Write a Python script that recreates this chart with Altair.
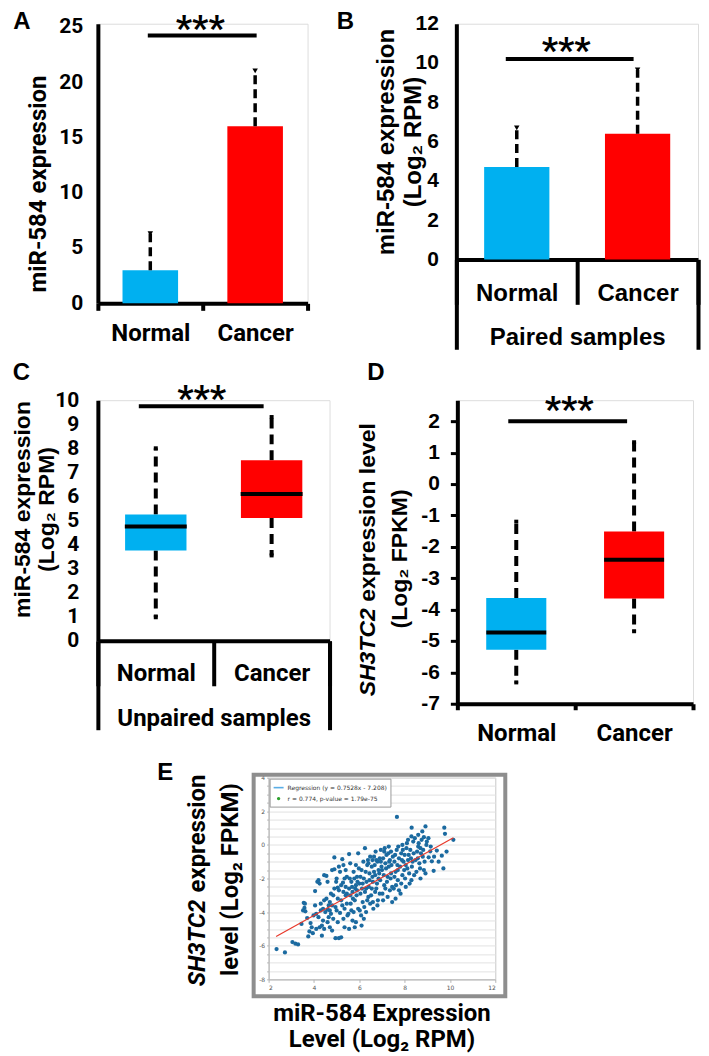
import altair as alt
import pandas as pd

BLUE = "#00B0F0"
RED = "#FF0000"
ROB = "Roboto"
ARI = "Liberation Sans"

categories = ["Normal", "Cancer"]

# Panel A (bar + error)
a_mean = [3.0, 16.0]
a_err = [6.3, 21.0]
a_sig = 24.2
a_ticks = [0, 5, 10, 15, 20, 25]

# Panel B (bar + error, paired)
b_mean = [4.7, 6.4]
b_err = [6.7, 9.65]
b_sig = 10.2
b_ticks = [0, 2, 4, 6, 8, 10, 12]
b_group = ["Paired samples"]

# Panel C (box, unpaired)
c_min = [0.98, 3.55]
c_q1 = [3.75, 5.1]
c_med = [4.75, 6.1]
c_q3 = [5.25, 7.5]
c_max = [8.0, 9.3]
c_sig = 9.75
c_ticks = [0, 1, 2, 3, 4, 5, 6, 7, 8, 9, 10]
c_group = ["Unpaired samples"]

# Panel D (box)
d_min = [-6.32, -4.69]
d_q1 = [-5.28, -3.65]
d_med = [-4.73, -2.41]
d_q3 = [-3.63, -1.51]
d_max = [-1.2, 1.33]
d_sig = 2.0
d_ticks = [-7, -6, -5, -4, -3, -2, -1, 0, 1, 2]

# Panel E (scatter)
scatter_pairs = [
    (2.35, -6.2), (2.72, -6.4), (3.05, -5.78), (3.18, -5.88), (3.3, -5.92), (3.45, -4.7),
    (3.55, -3.45), (3.58, -3.75), (3.62, -3.95), (3.52, -3.9), (3.7, -4.35), (3.75, -5.45),
    (3.8, -5.15), (3.85, -4.65), (3.9, -4.9), (3.95, -5.25), (3.98, -4.2), (3.6, -3.5),
    (4.05, -3.6), (4.1, -4.1), (4.15, -2.2), (4.2, -2.1), (4.25, -2.3), (4.3, -3.9), (4.35, -4.8),
    (4.4, -4.5), (4.45, -1.8), (4.45, -5.0), (4.2, -4.3), (4.1, -5.0), (4.3, -3.5), (4.4, -3.8),
    (4.25, -4.9), (4.35, -5.4), (4.45, -3.3), (4.05, -2.75),
    (4.55, -1.85), (4.6, -2.2), (4.65, -3.6), (4.7, -3.9), (4.75, -4.1), (4.8, -1.5), (4.9, -1.45),
    (4.6, -4.6), (4.7, -4.9), (4.8, -5.1), (4.85, -3.0), (4.9, -2.6), (4.95, -3.7), (4.55, -3.2),
    (4.65, -4.3), (4.75, -2.9), (4.85, -4.4), (4.9, -0.75), (4.95, -5.55), (4.5, -4.0), (4.6, -3.85),
    (4.7, -3.4), (4.8, -3.6), (4.98, -2.2),
    (5.0, -3.9), (5.05, -3.2), (5.1, -2.7), (5.15, -4.05), (5.2, -2.4), (5.25, -0.85), (5.3, -1.2),
    (5.35, -2.0), (5.4, -3.0), (5.45, -3.5), (5.05, -4.6), (5.1, -5.55), (5.2, -5.5), (5.3, -4.4),
    (5.35, -3.8), (5.4, -2.5), (5.45, -1.9), (5.15, -1.6), (5.25, -3.6), (5.3, -2.8), (5.0, -2.0),
    (5.1, -1.3), (5.2, -3.3), (5.35, -4.9), (5.4, -1.5), (5.45, -2.9), (5.48, -4.2), (5.05, -2.55),
    (5.28, -2.25),
    (5.55, -2.6), (5.6, -3.0), (5.65, -2.2), (5.7, -2.8), (5.75, -1.6), (5.8, -3.3), (5.85, -2.4),
    (5.9, -2.7), (5.95, -3.8), (5.55, -0.55), (5.6, -1.1), (5.65, -3.9), (5.7, -4.5), (5.8, -4.9),
    (5.85, -1.2), (5.9, -1.9), (5.95, -0.5), (5.52, -4.1), (5.58, -2.0), (5.62, -3.5), (5.68, -2.5),
    (5.72, -3.2), (5.78, -2.0), (5.82, -2.6), (5.88, -3.0), (5.92, -2.2), (5.98, -1.4), (5.75, -4.0),
    (5.55, -5.0), (5.85, -4.6),
    (6.0, -2.3), (6.05, -2.9), (6.1, -1.5), (6.15, -3.4), (6.2, -2.0), (6.25, -0.2), (6.3, -2.6),
    (6.35, -1.2), (6.4, -3.1), (6.45, -1.7), (6.02, -3.9), (6.08, -4.2), (6.12, -2.6), (6.18, -1.0),
    (6.22, -3.7), (6.28, -1.6), (6.32, -2.2), (6.38, -0.9), (6.42, -2.5), (6.48, -3.5), (6.05, -1.9),
    (6.15, -2.3), (6.25, -2.8), (6.35, -3.3), (6.45, -2.1), (6.1, -4.8), (6.2, -4.4), (6.3, -4.0),
    (6.4, -1.1), (6.48, -0.7),
    (6.55, -1.3), (6.6, -2.2), (6.65, -0.7), (6.7, -1.8), (6.75, -2.6), (6.8, -1.0), (6.85, -1.5),
    (6.9, -2.9), (6.95, -0.3), (6.52, -3.0), (6.58, -1.9), (6.62, -3.8), (6.68, -1.2), (6.72, -0.4),
    (6.78, -2.3), (6.82, -3.3), (6.88, -1.7), (6.92, -2.1), (6.98, -1.3), (6.55, -2.6), (6.65, -1.6),
    (6.75, -0.9), (6.85, -2.0), (6.95, -1.0), (6.6, -3.4), (6.7, -2.8), (6.8, -3.6), (6.9, -0.8),
    (6.58, -0.9),
    (7.0, -1.5), (7.05, -0.8), (7.1, -2.4), (7.15, -1.1), (7.2, -0.6), (7.25, -1.9), (7.3, -1.3),
    (7.35, -0.9), (7.4, -1.7), (7.45, -2.5), (7.02, -2.9), (7.08, -1.8), (7.12, -0.2), (7.18, -1.4),
    (7.22, -2.2), (7.28, -0.5), (7.32, -1.0), (7.38, -2.0), (7.42, -1.2), (7.48, -0.7), (7.05, -3.3),
    (7.15, -2.6), (7.25, -3.1), (7.35, -2.7), (7.45, -3.4), (7.1, -0.4), (7.3, -0.1), (7.4, -0.4),
    (7.55, -1.0), (7.6, -1.6), (7.65, -0.3), (7.7, -2.1), (7.75, -0.8), (7.66, 1.66), (7.8, -1.3),
    (7.85, -0.5), (7.9, -1.8), (7.95, -1.0), (7.52, -2.6), (7.58, -0.6), (7.62, -2.4), (7.68, -1.2),
    (7.72, -0.1), (7.82, -2.9), (7.88, -0.9), (7.92, -0.3), (7.98, -1.5), (7.55, -1.9), (7.7, -1.5),
    (7.85, -2.3), (7.6, -3.2), (7.75, -2.7), (7.9, 0.0),
    (8.0, -0.6), (8.05, -1.2), (8.1, 0.1), (8.15, -0.9), (8.2, -1.7), (8.25, -0.3), (8.3, 0.5),
    (8.35, -1.0), (8.4, -0.5), (8.31, 1.02), (8.02, -2.0), (8.08, -0.2), (8.12, -1.4), (8.18, -0.6),
    (8.22, -2.3), (8.28, -0.8), (8.32, -1.3), (8.38, 0.2), (8.42, -1.8), (8.48, -0.9), (8.05, -2.5),
    (8.3, -2.1), (8.45, 0.4), (8.15, 0.3),
    (8.55, -0.4), (8.6, 0.6), (8.65, -1.1), (8.7, -0.2), (8.75, 0.3), (8.8, -0.7), (8.85, -1.5),
    (8.85, 0.46), (8.92, 1.1), (8.96, 0.0), (8.52, -1.6), (8.58, -0.8), (8.62, 0.1), (8.68, -1.4),
    (8.72, -0.5), (8.78, 0.8), (8.82, -0.3), (8.88, -1.0), (8.92, -1.7), (8.98, 0.2), (8.7, -2.0),
    (8.6, -0.1),
    (9.06, -0.74), (9.13, -0.38), (9.2, -0.98), (9.28, -1.54), (9.05, 0.4), (9.15, -0.1), (9.3, -0.7),
    (9.42, -0.34), (9.5, -1.0), (9.64, -0.64), (9.71, -1.4), (9.85, -0.4), (9.75, 1.02), (9.78, 0.66),
    (10.15, 0.3),
]
e_x = [p[0] for p in scatter_pairs]
e_y = [p[1] for p in scatter_pairs]
reg_x = [2.33, 10.15]
reg_y = [-5.45, 0.43]
e_yticks = [-8 + 0.5 * i for i in range(25)]
e_xticks = [2, 4, 6, 8, 10, 12]
legend_labels = ["Regression (y = 0.7528x - 7.208)", "r = 0.774, p-value = 1.79e-75"]

ONE = [{"k": 0}]
HYPHEN = "replace(datum.label, '\u2212', '-')"


def anchor(x, y):
    return alt.Chart(alt.Data(values=ONE)).mark_rule(opacity=0, strokeWidth=0.5, color="black").encode(
        x=alt.value(x), x2=alt.value(x), y=alt.value(y), y2=alt.value(y))


def txt(text, x, y, font=ARI, size=24, angle=0, align="center", baseline="top", style="normal"):
    return alt.Chart(alt.Data(values=ONE)).mark_text(
        text=text, font=font, fontSize=size, fontWeight="bold", fontStyle=style, angle=angle,
        align=align, baseline=baseline, color="black").encode(x=alt.value(x), y=alt.value(y))


def cat_axis(font, padding, tick_size):
    return alt.Axis(title=None, orient="bottom", labelAngle=0, labelFont=font, labelFontSize=24,
                    labelFontWeight="bold", labelColor="black", labelPadding=padding, labelLimit=400,
                    domainColor="black", domainWidth=4, ticks=True, tickBand="extent",
                    tickSize=tick_size, tickWidth=4, tickColor="black", grid=False)


def group_axis(font, padding, tick_size):
    return alt.Axis(title=None, orient="bottom", labelAngle=0, labelFont=font, labelFontSize=24,
                    labelFontWeight="bold", labelColor="black", labelPadding=padding, labelLimit=400,
                    domain=False, ticks=True, tickBand="extent", tickSize=tick_size, tickWidth=4,
                    tickColor="black", grid=False)


def value_axis(values, font, lab_pad, title, tx, ty, tfont, tsize, tlh=27, ticks=False):
    kw = dict(values=values, title=title, titleFont=tfont, titleFontSize=tsize, titleFontWeight="bold",
              titleColor="black", titleAngle=270, titleX=tx, titleY=ty, titleAlign="center",
              titleBaseline="alphabetic", titleLineHeight=tlh, labelFont=font, labelFontSize=21,
              labelFontWeight="bold", labelColor="black", labelPadding=lab_pad, domainColor="black",
              domainWidth=4, grid=False, labelExpr=HYPHEN)
    if ticks:
        kw.update(ticks=True, tickSize=7, tickWidth=3, tickColor="black")
    else:
        kw.update(ticks=False, tickSize=0)
    return alt.Axis(**kw)


color = alt.Color("cat:N", scale=alt.Scale(domain=categories, range=[BLUE, RED]), legend=None)


def make_x(axis):
    sc = alt.Scale(type="band", domain=categories, paddingInner=0, paddingOuter=0)
    return lambda f: alt.X(f + ":N", sort=categories, scale=sc, axis=axis)


def make_y(domain, axis):
    sc = alt.Scale(domain=domain, nice=False, zero=False)
    return lambda f: alt.Y(f + ":Q", scale=sc, axis=axis)


def sig_layers(sig_df, X, Y, sig_off, star_dx, star_dy):
    sig = alt.Chart(sig_df).mark_rule(color="black", strokeWidth=4, xOffset=sig_off[0], x2Offset=sig_off[1]).encode(
        x=X("c1"), x2="c2:N", y=Y("y"))
    stars = alt.Chart(sig_df).mark_text(text="***", font=ROB, fontSize=36, fontWeight="bold", color="black",
                                         baseline="alphabetic", dx=star_dx, dy=star_dy).encode(x=X("c1"), y=Y("y"))
    return [sig, stars]


def bar_layers(df, sig_df, X, Y, sig_off, star_dx, star_dy, band_rel):
    bars = alt.Chart(df).mark_bar(width=alt.RelativeBandSize(band_rel)).encode(x=X("cat"), y=Y("mean"), color=color)
    err = alt.Chart(df).mark_rule(color="black", strokeWidth=3.5, strokeDash=[9, 5]).encode(
        x=X("cat"), y=Y("mean"), y2="err:Q")
    cap = alt.Chart(df).mark_point(shape="triangle-down", filled=True, size=30, color="black", opacity=1).encode(
        x=X("cat"), y=Y("err"))
    return [bars, err, cap] + sig_layers(sig_df, X, Y, sig_off, star_dx, star_dy)


def box_layers(df, sig_df, X, Y, tick_size, sig_off, star_dx, star_dy, band_rel):
    box = alt.Chart(df).mark_bar(width=alt.RelativeBandSize(band_rel)).encode(x=X("cat"), y=Y("q1"), y2="q3:Q", color=color)
    w_up = alt.Chart(df).mark_rule(color="black", strokeWidth=4, strokeDash=[10, 6]).encode(x=X("cat"), y=Y("q3"), y2="hi:Q")
    w_dn = alt.Chart(df).mark_rule(color="black", strokeWidth=4, strokeDash=[10, 6]).encode(x=X("cat"), y=Y("q1"), y2="lo:Q")
    cap_hi = alt.Chart(df).mark_point(shape="square", filled=True, size=16, color="black", opacity=1).encode(x=X("cat"), y=Y("hi"))
    cap_lo = alt.Chart(df).mark_point(shape="square", filled=True, size=16, color="black", opacity=1).encode(x=X("cat"), y=Y("lo"))
    med = alt.Chart(df).mark_tick(color="black", thickness=4, size=tick_size, opacity=1).encode(x=X("cat"), y=Y("med"))
    return [w_up, w_dn, box, cap_hi, cap_lo, med] + sig_layers(sig_df, X, Y, sig_off, star_dx, star_dy)


# ---------------- Panel A ----------------
dfA = pd.DataFrame({"cat": categories, "mean": a_mean, "err": a_err})
sigA = pd.DataFrame({"c1": ["Normal"], "c2": ["Cancer"], "y": [a_sig]})
XA = make_x(cat_axis(ROB, 11, 7))
YA = make_y([0, 25.27], value_axis(a_ticks, ROB, 15, "miR-584 expression", -52, 160, ROB, 24))
A = alt.layer(*bar_layers(dfA, sigA, XA, YA, (-2.5, 1.5), 50, 4.5, 0.53),
              txt("A", -76, -14), anchor(-89, -14)).properties(width=210, height=280)

# ---------------- Panel B ----------------
dfB = pd.DataFrame({"cat": categories, "mean": b_mean, "err": b_err})
sigB = pd.DataFrame({"c1": ["Normal"], "c2": ["Cancer"], "y": [b_sig]})
XB = make_x(cat_axis(ARI, -23, 45))
YB = make_y([0, 12], value_axis(b_ticks, ARI, 18, ["miR-584 expression", "(Log\u2082 RPM)"], -63, 118, ARI, 24, 27))
B_main = alt.layer(*bar_layers(dfB, sigB, XB, YB, (-11, -4), 49.5, 3, 0.54),
                   txt("B", -111, -14), anchor(0, 328))
grpB = alt.Chart(pd.DataFrame({"grp": b_group})).mark_point(opacity=0).encode(
    x=alt.X("grp:N", scale=alt.Scale(type="band", paddingInner=0, paddingOuter=0), axis=group_axis(ARI, -24, 90)))
B = alt.layer(B_main, grpB).resolve_scale(x="independent").properties(width=242, height=236)

# ---------------- Panel C ----------------
dfC = pd.DataFrame({"cat": categories, "lo": c_min, "q1": c_q1, "med": c_med, "q3": c_q3, "hi": c_max})
sigC = pd.DataFrame({"c1": ["Normal"], "c2": ["Cancer"], "y": [c_sig]})
XC = make_x(cat_axis(ROB, -24, 45))
YC = make_y([0, 10], value_axis(c_ticks, ROB, 19, ["miR-584 expression", "(Log\u2082 RPM)"], -68, 109, ARI, 23, 24))
C_main = alt.layer(*box_layers(dfC, sigC, XC, YC, 62, (-17, -8), 46, 3.5, 0.53),
                   txt("C", -76.5, -39), anchor(-89, -45))
grpC = alt.Chart(pd.DataFrame({"grp": c_group})).mark_point(opacity=0).encode(
    x=alt.X("grp:N", scale=alt.Scale(type="band", paddingInner=0, paddingOuter=0), axis=group_axis(ROB, -23, 89)))
C = alt.layer(C_main, grpC).resolve_scale(x="independent").properties(width=232, height=241)

# ---------------- Panel D ----------------
dfD = pd.DataFrame({"cat": categories, "lo": d_min, "q1": d_q1, "med": d_med, "q3": d_q3, "hi": d_max})
sigD = pd.DataFrame({"c1": ["Normal"], "c2": ["Cancer"], "y": [d_sig]})
XD = make_x(cat_axis(ROB, 12, 6))
YD = make_y([-7, 2.67], value_axis(d_ticks, ARI, 11, None, 0, 0, ARI, 23, ticks=True))
D = alt.layer(*box_layers(dfD, sigD, XD, YD, 60, (-8, -7), 53, 0, 0.51),
              txt("D", -81.5, -39),
              txt("SH3TC2", -82, 296.5, size=23, angle=270, align="left", baseline="alphabetic", style="italic"),
              txt("expression level", -82, 201.9, size=23, angle=270, align="left", baseline="alphabetic"),
              txt("(Log\u2082 FPKM)", -50, 159, size=23, angle=270, align="center", baseline="alphabetic"),
              anchor(0, 349)).properties(width=236, height=304)

# ---------------- Panel E ----------------
dfE = pd.DataFrame({"mir": e_x, "sh3": e_y})
axEx = alt.Axis(values=e_xticks, grid=False, domainColor="#b5b5b5", domainWidth=1, tickColor="#b5b5b5",
                tickSize=3, labelFont="DejaVu Sans", labelFontSize=6, labelColor="#555555", labelPadding=2,
                title=["miR-584 Expression", "Level (Log\u2082 RPM)"], titleFont=ROB, titleFontSize=24,
                titleFontWeight="bold", titleColor="black", titleLineHeight=26, titleX=113, titleY=41,
                titleAlign="center", titleBaseline="alphabetic")
axEy = alt.Axis(values=e_yticks,
                labelExpr="datum.value % 2 == 0 ? replace(format(datum.value, 'd'), '\u2212', '-') : ''",
                grid=True, gridColor="#e2e2e2", gridWidth=1, domainColor="#b5b5b5", domainWidth=1,
                tickColor="#b5b5b5", tickSize=2, labelFont="DejaVu Sans", labelFontSize=6,
                labelColor="#555555", labelPadding=2, title=None)
EX = lambda f: alt.X(f + ":Q", scale=alt.Scale(domain=[2, 12], nice=False, zero=False), axis=axEx)
EY = lambda f: alt.Y(f + ":Q", scale=alt.Scale(domain=[-8, 4], nice=False, zero=False), axis=axEy)

frame = alt.Chart(alt.Data(values=ONE)).mark_rect(fillOpacity=0, stroke="#8e8e8e", strokeWidth=4).encode(
    x=alt.value(-15), x2=alt.value(237), y=alt.value(-3), y2=alt.value(219))
pts = alt.Chart(dfE).mark_circle(size=18, color="#1b6aa0", opacity=1).encode(x=EX("mir"), y=EY("sh3"))
reg = alt.Chart(pd.DataFrame({"mir": reg_x, "sh3": reg_y})).mark_line(color="#e8392b", strokeWidth=1.2).encode(
    x=EX("mir"), y=EY("sh3"))
leg_cfg = dict(title=None, orient="top-left", offset=1, padding=3, rowPadding=1, fillColor="white",
               strokeColor="#9a9a9a", labelFont="DejaVu Sans", labelFontSize=6, labelColor="#333333",
               symbolSize=100, symbolStrokeWidth=1.6, labelOffset=3, cornerRadius=0)
leg = alt.Chart(pd.DataFrame({"lab": legend_labels})).mark_point(opacity=0, filled=False).encode(
    color=alt.Color("lab:N", sort=legend_labels,
                    scale=alt.Scale(domain=legend_labels, range=["#5aaee6", "#2ca02c"]),
                    legend=alt.Legend(**leg_cfg)),
    shape=alt.Shape("lab:N", sort=legend_labels,
                    scale=alt.Scale(domain=legend_labels,
                                    range=["stroke", "M-0.18,0A0.18,0.18 0 1,0 0.18,0A0.18,0.18 0 1,0 -0.18,0"]),
                    legend=alt.Legend(**leg_cfg)))
E = alt.layer(
    frame, pts, reg, leg,
    txt("E", -103.5, -17),
    txt("SH3TC2", -64, 209, font=ROB, size=24, angle=270, align="left", baseline="alphabetic", style="italic"),
    txt("expression", -64, 115, font=ROB, size=24, angle=270, align="left", baseline="alphabetic"),
    txt("level (Log\u2082 FPKM)", -31, 102, font=ROB, size=24, angle=270, align="center", baseline="alphabetic"),
    anchor(0, -25),
).properties(width=227, height=202, view=alt.ViewBackground(stroke="#c8c8c8", strokeWidth=1))

spacer = alt.Chart(alt.Data(values=ONE)).mark_point(opacity=0, size=1).encode(
    x=alt.value(0), y=alt.value(0)).properties(
    width=1, height=202, view=alt.ViewBackground(strokeOpacity=0, fillOpacity=0, strokeWidth=0))

row1 = alt.hconcat(A, B, spacing=149, bounds="flush").resolve_scale(color="independent", shape="independent")
row2 = alt.hconcat(C, D, spacing=128, bounds="flush").resolve_scale(color="independent", shape="independent")
row3 = alt.hconcat(spacer, E, spacing=170, bounds="flush").resolve_scale(color="independent", shape="independent")

chart = alt.vconcat(row1, row2, row3, spacing=2).resolve_scale(
    color="independent", shape="independent").properties(padding=0).configure_view(strokeWidth=0).configure(
    background="white")

chart.save("out.html", embed_options={"renderer": "svg", "actions": False})
